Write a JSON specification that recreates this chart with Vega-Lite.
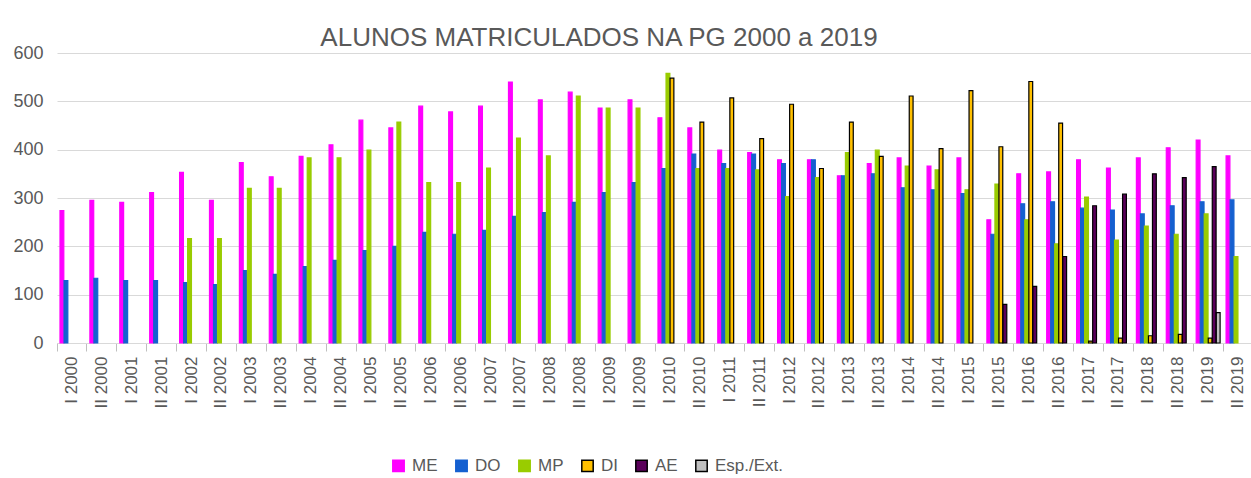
{
  "$schema": "https://vega.github.io/schema/vega-lite/v6.json",
  "width": 1196,
  "height": 290,
  "autosize": {"type": "none"},
  "padding": {"left": 57, "top": 53, "right": 0, "bottom": 135},
  "background": "#ffffff",
  "title": {
    "text": "ALUNOS MATRICULADOS NA PG 2000 a 2019",
    "font": "Liberation Sans",
    "fontSize": 26,
    "fontWeight": "normal",
    "color": "#595959",
    "anchor": "middle",
    "dx": -56,
    "dy": 12,
    "offset": 5
  },
  "config": {
    "view": {"stroke": null},
    "font": "Liberation Sans"
  },
  "data": {
    "values": [
      {"p": "I 2000", "s": "ME", "v": 274}, {"p": "I 2000", "s": "DO", "v": 129},
      {"p": "II 2000", "s": "ME", "v": 295}, {"p": "II 2000", "s": "DO", "v": 134},
      {"p": "I 2001", "s": "ME", "v": 291}, {"p": "I 2001", "s": "DO", "v": 129},
      {"p": "II 2001", "s": "ME", "v": 311}, {"p": "II 2001", "s": "DO", "v": 129},
      {"p": "I 2002", "s": "ME", "v": 353}, {"p": "I 2002", "s": "DO", "v": 125}, {"p": "I 2002", "s": "MP", "v": 216},
      {"p": "II 2002", "s": "ME", "v": 295}, {"p": "II 2002", "s": "DO", "v": 121}, {"p": "II 2002", "s": "MP", "v": 216},
      {"p": "I 2003", "s": "ME", "v": 373}, {"p": "I 2003", "s": "DO", "v": 150}, {"p": "I 2003", "s": "MP", "v": 320},
      {"p": "II 2003", "s": "ME", "v": 344}, {"p": "II 2003", "s": "DO", "v": 142}, {"p": "II 2003", "s": "MP", "v": 320},
      {"p": "I 2004", "s": "ME", "v": 386}, {"p": "I 2004", "s": "DO", "v": 158}, {"p": "I 2004", "s": "MP", "v": 383},
      {"p": "II 2004", "s": "ME", "v": 410}, {"p": "II 2004", "s": "DO", "v": 171}, {"p": "II 2004", "s": "MP", "v": 383},
      {"p": "I 2005", "s": "ME", "v": 461}, {"p": "I 2005", "s": "DO", "v": 191}, {"p": "I 2005", "s": "MP", "v": 399},
      {"p": "II 2005", "s": "ME", "v": 445}, {"p": "II 2005", "s": "DO", "v": 200}, {"p": "II 2005", "s": "MP", "v": 457},
      {"p": "I 2006", "s": "ME", "v": 490}, {"p": "I 2006", "s": "DO", "v": 229}, {"p": "I 2006", "s": "MP", "v": 332},
      {"p": "II 2006", "s": "ME", "v": 478}, {"p": "II 2006", "s": "DO", "v": 225}, {"p": "II 2006", "s": "MP", "v": 332},
      {"p": "I 2007", "s": "ME", "v": 490}, {"p": "I 2007", "s": "DO", "v": 233}, {"p": "I 2007", "s": "MP", "v": 362},
      {"p": "II 2007", "s": "ME", "v": 540}, {"p": "II 2007", "s": "DO", "v": 262}, {"p": "II 2007", "s": "MP", "v": 424},
      {"p": "I 2008", "s": "ME", "v": 503}, {"p": "I 2008", "s": "DO", "v": 270}, {"p": "I 2008", "s": "MP", "v": 387},
      {"p": "II 2008", "s": "ME", "v": 519}, {"p": "II 2008", "s": "DO", "v": 291}, {"p": "II 2008", "s": "MP", "v": 511},
      {"p": "I 2009", "s": "ME", "v": 486}, {"p": "I 2009", "s": "DO", "v": 311}, {"p": "I 2009", "s": "MP", "v": 486},
      {"p": "II 2009", "s": "ME", "v": 503}, {"p": "II 2009", "s": "DO", "v": 332}, {"p": "II 2009", "s": "MP", "v": 486},
      {"p": "I 2010", "s": "ME", "v": 466}, {"p": "I 2010", "s": "DO", "v": 361}, {"p": "I 2010", "s": "MP", "v": 558}, {"p": "I 2010", "s": "DI", "v": 548},
      {"p": "II 2010", "s": "ME", "v": 445}, {"p": "II 2010", "s": "DO", "v": 391}, {"p": "II 2010", "s": "MP", "v": 361}, {"p": "II 2010", "s": "DI", "v": 457},
      {"p": "I 2011", "s": "ME", "v": 399}, {"p": "I 2011", "s": "DO", "v": 371}, {"p": "I 2011", "s": "MP", "v": 361}, {"p": "I 2011", "s": "DI", "v": 507},
      {"p": "II 2011", "s": "ME", "v": 394}, {"p": "II 2011", "s": "DO", "v": 391}, {"p": "II 2011", "s": "MP", "v": 358}, {"p": "II 2011", "s": "DI", "v": 423},
      {"p": "I 2012", "s": "ME", "v": 379}, {"p": "I 2012", "s": "DO", "v": 371}, {"p": "I 2012", "s": "MP", "v": 303}, {"p": "I 2012", "s": "DI", "v": 494},
      {"p": "II 2012", "s": "ME", "v": 379}, {"p": "II 2012", "s": "DO", "v": 379}, {"p": "II 2012", "s": "MP", "v": 342}, {"p": "II 2012", "s": "DI", "v": 361},
      {"p": "I 2013", "s": "ME", "v": 346}, {"p": "I 2013", "s": "DO", "v": 346}, {"p": "I 2013", "s": "MP", "v": 394}, {"p": "I 2013", "s": "DI", "v": 457},
      {"p": "II 2013", "s": "ME", "v": 371}, {"p": "II 2013", "s": "DO", "v": 350}, {"p": "II 2013", "s": "MP", "v": 399}, {"p": "II 2013", "s": "DI", "v": 386},
      {"p": "I 2014", "s": "ME", "v": 383}, {"p": "I 2014", "s": "DO", "v": 321}, {"p": "I 2014", "s": "MP", "v": 366}, {"p": "I 2014", "s": "DI", "v": 511},
      {"p": "II 2014", "s": "ME", "v": 366}, {"p": "II 2014", "s": "DO", "v": 317}, {"p": "II 2014", "s": "MP", "v": 358}, {"p": "II 2014", "s": "DI", "v": 402},
      {"p": "I 2015", "s": "ME", "v": 383}, {"p": "I 2015", "s": "DO", "v": 309}, {"p": "I 2015", "s": "MP", "v": 317}, {"p": "I 2015", "s": "DI", "v": 522},
      {"p": "II 2015", "s": "ME", "v": 255}, {"p": "II 2015", "s": "DO", "v": 225}, {"p": "II 2015", "s": "MP", "v": 329}, {"p": "II 2015", "s": "DI", "v": 406}, {"p": "II 2015", "s": "AE", "v": 80},
      {"p": "I 2016", "s": "ME", "v": 350}, {"p": "I 2016", "s": "DO", "v": 288}, {"p": "I 2016", "s": "MP", "v": 255}, {"p": "I 2016", "s": "DI", "v": 541}, {"p": "I 2016", "s": "AE", "v": 117},
      {"p": "II 2016", "s": "ME", "v": 354}, {"p": "II 2016", "s": "DO", "v": 292}, {"p": "II 2016", "s": "MP", "v": 205}, {"p": "II 2016", "s": "DI", "v": 455}, {"p": "II 2016", "s": "AE", "v": 179},
      {"p": "I 2017", "s": "ME", "v": 379}, {"p": "I 2017", "s": "DO", "v": 279}, {"p": "I 2017", "s": "MP", "v": 302}, {"p": "I 2017", "s": "DI", "v": 4}, {"p": "I 2017", "s": "AE", "v": 284},
      {"p": "II 2017", "s": "ME", "v": 362}, {"p": "II 2017", "s": "DO", "v": 275}, {"p": "II 2017", "s": "MP", "v": 213}, {"p": "II 2017", "s": "DI", "v": 10}, {"p": "II 2017", "s": "AE", "v": 308},
      {"p": "I 2018", "s": "ME", "v": 383}, {"p": "I 2018", "s": "DO", "v": 267}, {"p": "I 2018", "s": "MP", "v": 242}, {"p": "I 2018", "s": "DI", "v": 15}, {"p": "I 2018", "s": "AE", "v": 350},
      {"p": "II 2018", "s": "ME", "v": 404}, {"p": "II 2018", "s": "DO", "v": 284}, {"p": "II 2018", "s": "MP", "v": 225}, {"p": "II 2018", "s": "DI", "v": 18}, {"p": "II 2018", "s": "AE", "v": 342},
      {"p": "I 2019", "s": "ME", "v": 420}, {"p": "I 2019", "s": "DO", "v": 292}, {"p": "I 2019", "s": "MP", "v": 267}, {"p": "I 2019", "s": "DI", "v": 10}, {"p": "I 2019", "s": "AE", "v": 365}, {"p": "I 2019", "s": "Esp./Ext.", "v": 63},
      {"p": "II 2019", "s": "ME", "v": 387}, {"p": "II 2019", "s": "DO", "v": 296}, {"p": "II 2019", "s": "MP", "v": 179}
    ]
  },
  "mark": {"type": "bar", "strokeWidth": 1.2},
  "encoding": {
    "x": {
      "field": "p",
      "type": "nominal",
      "sort": null,
      "scale": {"paddingInner": 0.2, "paddingOuter": 0.1},
      "axis": {
        "title": null,
        "labelAngle": -90,
        "labelFontSize": 17,
        "labelColor": "#595959",
        "labelPadding": 5,
        "tickSize": 8,
        "tickColor": "#bfbfbf",
        "bandPosition": -0.125,
        "domainColor": "#d9d9d9",
        "labelFont": "Liberation Sans"
      }
    },
    "xOffset": {
      "field": "s",
      "type": "nominal",
      "sort": ["ME", "DO", "MP", "DI", "AE", "Esp./Ext."],
      "scale": {"domain": ["ME", "DO", "MP", "DI", "AE", "Esp./Ext."], "paddingInner": 0.05}
    },
    "y": {
      "field": "v",
      "type": "quantitative",
      "scale": {"domain": [0, 600], "nice": false},
      "axis": {
        "title": null,
        "values": [0, 100, 200, 300, 400, 500, 600],
        "labelFontSize": 18,
        "labelColor": "#595959",
        "labelPadding": 14,
        "ticks": false,
        "domain": false,
        "gridColor": "#d9d9d9",
        "labelFont": "Liberation Sans"
      }
    },
    "color": {
      "field": "s",
      "type": "nominal",
      "scale": {
        "domain": ["ME", "DO", "MP", "DI", "AE", "Esp./Ext."],
        "range": ["#FF00FF", "#1560D0", "#99CC00", "#FFC000", "#5A005A", "#C0C0C0"]
      },
      "legend": {
        "title": null,
        "orient": "none",
        "direction": "horizontal",
        "legendX": 333,
        "legendY": 404,
        "symbolType": "square",
        "symbolSize": 130,
        "symbolStrokeWidth": 1.5,
        "labelFontSize": 17,
        "labelColor": "#595959",
        "labelOffset": 5,
        "columnPadding": 14,
        "labelFont": "Liberation Sans"
      }
    },
    "stroke": {
      "field": "s",
      "type": "nominal",
      "scale": {
        "domain": ["ME", "DO", "MP", "DI", "AE", "Esp./Ext."],
        "range": ["#FF00FF", "#1560D0", "#99CC00", "#000000", "#000000", "#000000"]
      },
      "legend": null
    }
  }
}
